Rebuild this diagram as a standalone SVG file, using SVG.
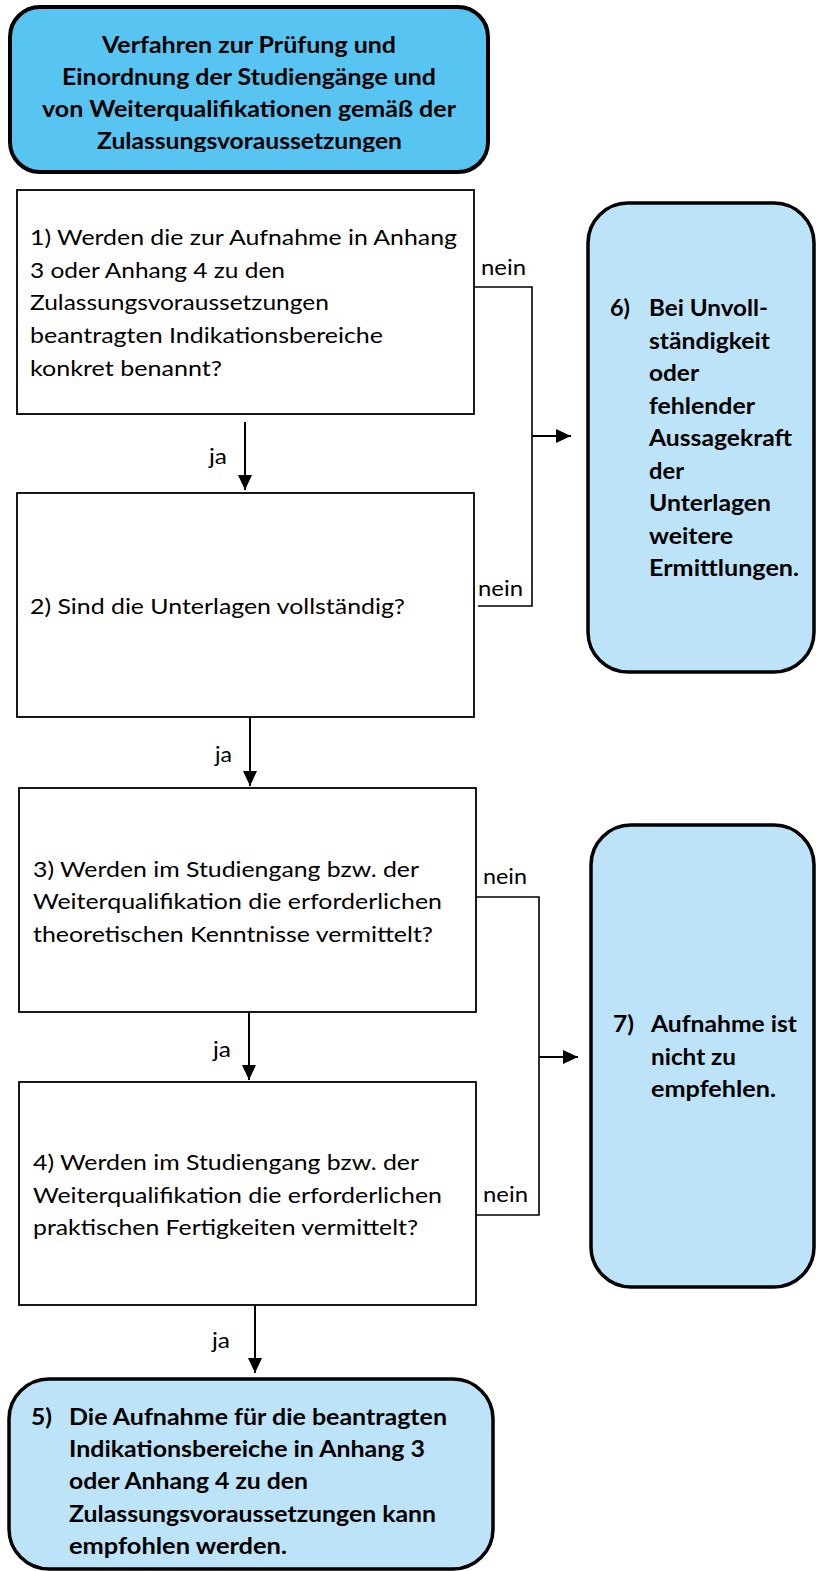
<svg xmlns="http://www.w3.org/2000/svg" width="816" height="1571" viewBox="0 0 816 1571">
<style>
  .box { fill: #ffffff; stroke: #000000; stroke-width: 1.8; }
  .head { fill: #57C4F1; stroke: #000000; stroke-width: 4; }
  .res { fill: #BDE3F8; stroke: #000000; stroke-width: 3.5; }
  .t { font-family: Lato, "Open Sans", "Liberation Sans", sans-serif; font-size: 22px; fill: #000000; }
  .b { font-family: Lato, "Open Sans", "Liberation Sans", sans-serif; font-size: 22px; font-weight: bold; fill: #000000; }
  .ln { fill: none; stroke: #000000; stroke-width: 1.6; }
  .ar { fill: none; stroke: #000000; stroke-width: 2; }
</style>
<defs>
  <marker id="ah" markerUnits="userSpaceOnUse" markerWidth="16" markerHeight="14" refX="15" refY="7" orient="auto">
    <path d="M0,0 L15,7 L0,14 z" fill="#000000"/>
  </marker>
  <clipPath id="headclip">
    <rect x="0" y="0" width="816" height="152"/>
  </clipPath>
</defs>

<g id="connectors">
  <path class="ln" d="M474,287 H532 V606 H478"/>
  <path class="ln" d="M476,897 H539 V1215 H475"/>
  <line class="ar" x1="245" y1="422" x2="245" y2="490" marker-end="url(#ah)"/>
  <line class="ar" x1="250" y1="717" x2="250" y2="786" marker-end="url(#ah)"/>
  <line class="ar" x1="249" y1="1012" x2="249" y2="1080" marker-end="url(#ah)"/>
  <line class="ar" x1="255" y1="1305" x2="255" y2="1373" marker-end="url(#ah)"/>
  <line class="ar" x1="532" y1="436" x2="571" y2="436" marker-end="url(#ah)"/>
  <line class="ar" x1="539" y1="1057" x2="578" y2="1057" marker-end="url(#ah)"/>
  <text class="t" x="209" y="464" textLength="18" lengthAdjust="spacingAndGlyphs">ja</text>
  <text class="t" x="215" y="762" textLength="17" lengthAdjust="spacingAndGlyphs">ja</text>
  <text class="t" x="213" y="1057" textLength="18" lengthAdjust="spacingAndGlyphs">ja</text>
  <text class="t" x="212" y="1348" textLength="18" lengthAdjust="spacingAndGlyphs">ja</text>
  <text class="t" x="481" y="275" textLength="45" lengthAdjust="spacingAndGlyphs">nein</text>
  <text class="t" x="478" y="596" textLength="45" lengthAdjust="spacingAndGlyphs">nein</text>
  <text class="t" x="483" y="884" textLength="44" lengthAdjust="spacingAndGlyphs">nein</text>
  <text class="t" x="483" y="1202" textLength="45" lengthAdjust="spacingAndGlyphs">nein</text>
</g>

<g id="title">
  <rect class="head" x="10" y="7" width="478" height="165" rx="30" ry="30"/>
  <g clip-path="url(#headclip)">
    <text class="b" x="102" y="53" textLength="294" lengthAdjust="spacingAndGlyphs">Verfahren zur Prüfung und</text>
    <text class="b" x="62" y="85" textLength="374" lengthAdjust="spacingAndGlyphs">Einordnung der Studiengänge und</text>
    <text class="b" x="42" y="117" textLength="414" lengthAdjust="spacingAndGlyphs">von Weiterqualifikationen gemäß der</text>
    <text class="b" x="97" y="149" textLength="305" lengthAdjust="spacingAndGlyphs">Zulassungsvoraussetzungen</text>
  </g>
</g>

<g id="node1">
  <rect class="box" x="17" y="190" width="457" height="224"/>
  <text class="t" x="30" y="245" textLength="427" lengthAdjust="spacingAndGlyphs">1) Werden die zur Aufnahme in Anhang</text>
  <text class="t" x="30" y="278" textLength="255" lengthAdjust="spacingAndGlyphs">3 oder Anhang 4 zu den</text>
  <text class="t" x="30" y="310" textLength="299" lengthAdjust="spacingAndGlyphs">Zulassungsvoraussetzungen</text>
  <text class="t" x="30" y="343" textLength="353" lengthAdjust="spacingAndGlyphs">beantragten Indikationsbereiche</text>
  <text class="t" x="30" y="376" textLength="192" lengthAdjust="spacingAndGlyphs">konkret benannt?</text>
</g>

<g id="node2">
  <rect class="box" x="17" y="493" width="457" height="224"/>
  <text class="t" x="30" y="614" textLength="375" lengthAdjust="spacingAndGlyphs">2) Sind die Unterlagen vollständig?</text>
</g>

<g id="node3">
  <rect class="box" x="19" y="788" width="457" height="224"/>
  <text class="t" x="33" y="877" textLength="386" lengthAdjust="spacingAndGlyphs">3) Werden im Studiengang bzw. der</text>
  <text class="t" x="33" y="909" textLength="409" lengthAdjust="spacingAndGlyphs">Weiterqualifikation die erforderlichen</text>
  <text class="t" x="33" y="942" textLength="400" lengthAdjust="spacingAndGlyphs">theoretischen Kenntnisse vermittelt?</text>
</g>

<g id="node4">
  <rect class="box" x="19" y="1082" width="457" height="223"/>
  <text class="t" x="33" y="1170" textLength="386" lengthAdjust="spacingAndGlyphs">4) Werden im Studiengang bzw. der</text>
  <text class="t" x="33" y="1203" textLength="409" lengthAdjust="spacingAndGlyphs">Weiterqualifikation die erforderlichen</text>
  <text class="t" x="33" y="1235" textLength="385" lengthAdjust="spacingAndGlyphs">praktischen Fertigkeiten vermittelt?</text>
</g>

<g id="node5">
  <rect class="res" x="9" y="1379" width="484" height="190" rx="40" ry="40"/>
  <text class="b" x="31" y="1425" textLength="21" lengthAdjust="spacingAndGlyphs">5)</text>
  <text class="b" x="69" y="1425" textLength="378" lengthAdjust="spacingAndGlyphs">Die Aufnahme für die beantragten</text>
  <text class="b" x="69" y="1457" textLength="356" lengthAdjust="spacingAndGlyphs">Indikationsbereiche in Anhang 3</text>
  <text class="b" x="69" y="1489" textLength="239" lengthAdjust="spacingAndGlyphs">oder Anhang 4 zu den</text>
  <text class="b" x="69" y="1522" textLength="367" lengthAdjust="spacingAndGlyphs">Zulassungsvoraussetzungen kann</text>
  <text class="b" x="69" y="1554" textLength="218" lengthAdjust="spacingAndGlyphs">empfohlen werden.</text>
</g>

<g id="node6">
  <rect class="res" x="588" y="203" width="226" height="469" rx="40" ry="40"/>
  <text class="b" x="610" y="316" textLength="20" lengthAdjust="spacingAndGlyphs">6)</text>
  <text class="b" x="649" y="316" textLength="119" lengthAdjust="spacingAndGlyphs">Bei Unvoll-</text>
  <text class="b" x="649" y="348.5" textLength="121" lengthAdjust="spacingAndGlyphs">ständigkeit</text>
  <text class="b" x="649" y="381" textLength="50" lengthAdjust="spacingAndGlyphs">oder</text>
  <text class="b" x="649" y="413.5" textLength="106" lengthAdjust="spacingAndGlyphs">fehlender</text>
  <text class="b" x="649" y="446" textLength="143" lengthAdjust="spacingAndGlyphs">Aussagekraft</text>
  <text class="b" x="649" y="478.5" textLength="35" lengthAdjust="spacingAndGlyphs">der</text>
  <text class="b" x="649" y="511" textLength="122" lengthAdjust="spacingAndGlyphs">Unterlagen</text>
  <text class="b" x="649" y="543.5" textLength="84" lengthAdjust="spacingAndGlyphs">weitere</text>
  <text class="b" x="649" y="576" textLength="150" lengthAdjust="spacingAndGlyphs">Ermittlungen.</text>
</g>

<g id="node7">
  <rect class="res" x="591" y="825" width="223" height="462" rx="40" ry="40"/>
  <text class="b" x="613" y="1032" textLength="21" lengthAdjust="spacingAndGlyphs">7)</text>
  <text class="b" x="651" y="1032" textLength="146" lengthAdjust="spacingAndGlyphs">Aufnahme ist</text>
  <text class="b" x="651" y="1065" textLength="85" lengthAdjust="spacingAndGlyphs">nicht zu</text>
  <text class="b" x="651" y="1097" textLength="125" lengthAdjust="spacingAndGlyphs">empfehlen.</text>
</g>
</svg>
